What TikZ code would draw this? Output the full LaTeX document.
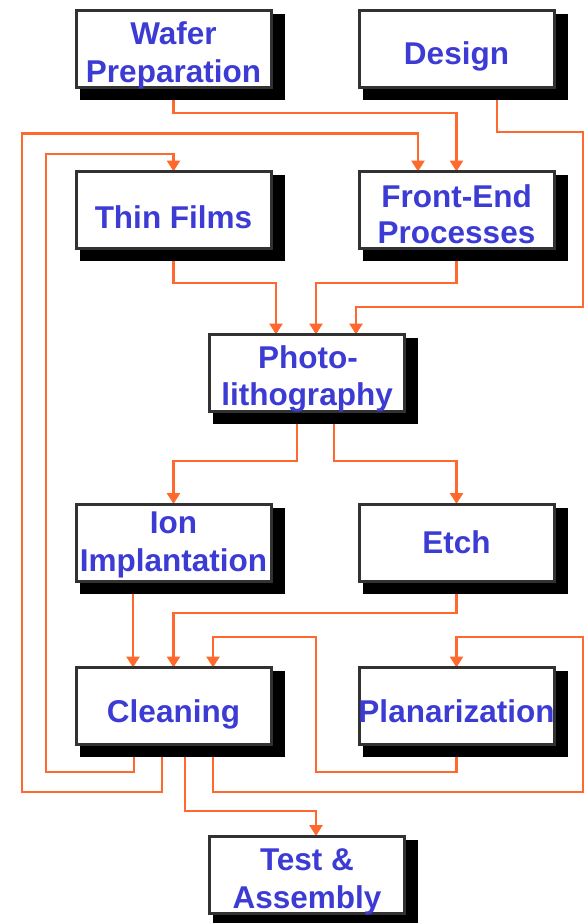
\documentclass[tikz,border=0pt]{standalone}
\usepackage{fontspec}
\setmainfont{Liberation Sans}
\usetikzlibrary{arrows.meta,calc}
\definecolor{flowc}{RGB}{255,105,45}
\definecolor{txtc}{RGB}{60,60,212}
\definecolor{edgec}{RGB}{50,50,50}
\pgfdeclarelayer{back}
\pgfdeclarelayer{bg}
\pgfdeclarelayer{shade}
\pgfsetlayers{back,bg,shade,main}
\begin{document}
\begin{tikzpicture}[x=1pt,y=1pt,
  box/.style={draw=edgec, line width=3pt, fill=white, minimum width=195pt, minimum height=77pt, inner sep=0pt, outer sep=0pt},
  lbl/.style={text=txtc, font=\bfseries\fontsize{31.5}{37}\selectfont, inner sep=0pt, anchor=base},
  flow/.style={draw=flowc, line width=2.7pt, line join=miter},
  arr/.style={flow, -{Triangle[width=13pt,length=11pt]}},
]
\begin{pgfonlayer}{back}
\fill[white] (0,0) rectangle (586,-923);
\end{pgfonlayer}
\useasboundingbox (0,0) rectangle (586,-923);

% boxes
\node[box] (wafer)  at (173.5,-49)   {};
\node[box] (design) at (456.5,-49)   {};
\node[box] (tf)     at (173.5,-210)  {};
\node[box] (fe)     at (456.5,-210)  {};
\node[box] (photo)  at (307,-373)    {};
\node[box] (ion)    at (173.5,-542.5){};
\node[box] (etch)   at (456.5,-542.5){};
\node[box] (clean)  at (173.5,-706)  {};
\node[box] (plan)   at (456.5,-706)  {};
\node[box] (test)   at (307,-874.5)  {};

% labels
\node[lbl] (wafer1) at (173.5,-45) {Wafer};
\node[lbl] (wafer2) at (173.5,-83) {Preparation};
\node[lbl] (design1) at (456.5,-65) {Design};
\node[lbl] (tf1) at (173.5,-228) {Thin Films};
\node[lbl] (fe1) at (456.5,-207) {Front-End};
\node[lbl] (fe2) at (456.5,-243) {Processes};
\node[lbl] (photo1) at (308,-368) {Photo-};
\node[lbl] (photo2) at (307,-405) {lithography};
\node[lbl] (ion1) at (173.5,-533) {Ion};
\node[lbl] (ion2) at (173.5,-571) {Implantation};
\node[lbl] (etch1) at (456.5,-553) {Etch};
\node[lbl] (clean1) at (173.5,-722) {Cleaning};
\node[lbl] (plan1) at (456.5,-722) {Planarization};
\node[lbl] (test1) at (307,-870) {Test \&};
\node[lbl] (test2) at (307,-908) {Assembly};

% shadows
\begin{pgfonlayer}{shade}
\foreach \b in {wafer,design,tf,fe,photo,ion,etch,clean,plan,test}{
  \fill[black] ($(\b.south west)+(3.5,-12.5)$) rectangle ($(\b.north east)+(13.5,-3.5)$);
}
\end{pgfonlayer}

% helper coordinates
\coordinate (r113) at (0,-113);
\coordinate (r132) at (0,-132);
\coordinate (r133) at (0,-133.5);
\coordinate (r154) at (0,-154);
\coordinate (r283) at (0,-283);
\coordinate (r307) at (0,-307);
\coordinate (r461) at (0,-461);
\coordinate (r613) at (0,-613);
\coordinate (r637) at (0,-637);
\coordinate (r772) at (0,-772);
\coordinate (r792) at (0,-792);
\coordinate (r811) at (0,-811);
\coordinate (c22) at (22,0);
\coordinate (c46) at (46,0);
\coordinate (c316) at (316,0);
\coordinate (c583) at (583,0);

\coordinate (d1) at ($(design.south)+(40.5,0)$);
\coordinate (p1) at ($(photo.north)+(-31,0)$);
\coordinate (p2) at ($(photo.north)+(9,0)$);
\coordinate (p3) at ($(photo.north)+(49,0)$);
\coordinate (ph1) at ($(photo.south)+(-10,0)$);
\coordinate (ph2) at ($(photo.south)+(27,0)$);
\coordinate (ci1) at ($(clean.north)+(-40.5,0)$);
\coordinate (ci3) at ($(clean.north)+(39.5,0)$);
\coordinate (cb1) at ($(clean.south)+(-39.5,0)$);
\coordinate (cb2) at ($(clean.south)+(-11.5,0)$);
\coordinate (cb3) at ($(clean.south)+(11.5,0)$);
\coordinate (cb4) at ($(clean.south)+(39.5,0)$);
\coordinate (t1) at ($(test.north)+(9,0)$);
\coordinate (f1) at ($(fe.north)+(-38.5,0)$);

\begin{pgfonlayer}{bg}
\draw[arr] (wafer.south) -- (wafer.south |- r113) -| (fe.north);
\draw[arr] (d1) |- (c583 |- r132) -- (c583 |- r307) -| (p3);
\draw[arr] (tf.south) |- (p1 |- r283) -- (p1);
\draw[arr] (fe.south) |- (p2 |- r283) -- (p2);
\draw[arr] (ph1) -- (ph1 |- r461) -| (ion.north);
\draw[arr] (ph2) -- (ph2 |- r461) -| (etch.north);
\draw[arr] (ion.south -| ci1) -- (ci1);
\draw[arr] (etch.south) -- (etch.south |- r613) -| (clean.north);
\draw[arr] (plan.south) -- (plan.south |- r772) -| (c316 |- r637) -| (ci3);
\draw[arr] (cb4) -- (cb4 |- r792) -| (c583 |- r637) -| (plan.north);
\draw[arr] (cb3) |- (t1 |- r811) -- (t1);
\draw[arr] (cb1) |- (c46 |- r772) -- (c46 |- r154) -| (tf.north);
\draw[arr] (cb2) |- (c22 |- r792) -- (c22 |- r133) -| (f1);
\end{pgfonlayer}
\end{tikzpicture}
\end{document}
